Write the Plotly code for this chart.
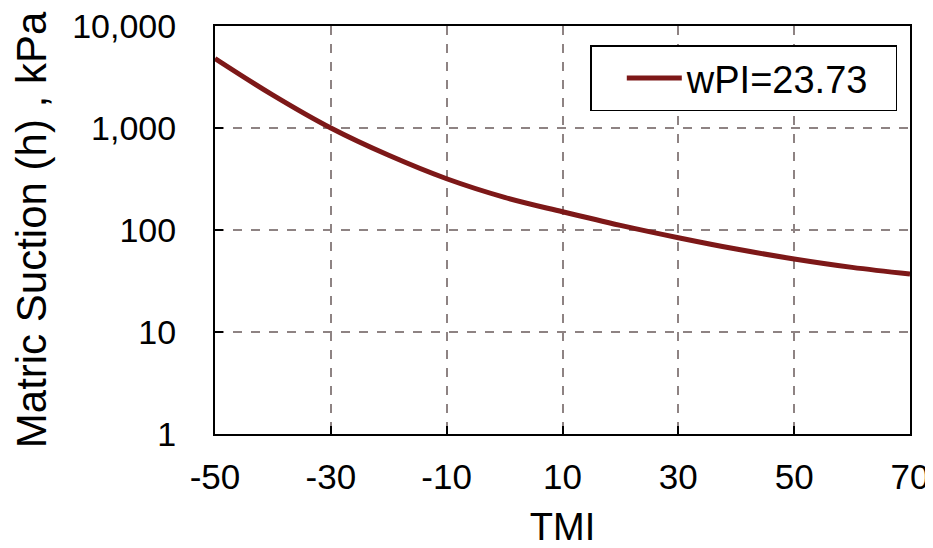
import plotly.graph_objects as go

tmi = [-50, -40, -30, -20, -10, 0, 10, 20, 30, 40, 50, 60, 70]
suction = [4800, 2100, 1000, 540, 318, 209, 151, 111, 84, 65, 52, 43, 37]
series_name = "wPI=23.73"

x_ticks = [-50, -30, -10, 10, 30, 50, 70]
x_ticktext = ["-50", "-30", "-10", "10", "30", "50", "70"]
y_ticks = [1, 10, 100, 1000, 10000]
y_ticktext = ["1", "10", "100", "1,000", "10,000"]

FONT = "Liberation Sans, Arial, sans-serif"
GRID = "#8e8383"

fig = go.Figure()
fig.add_trace(go.Scatter(
    x=tmi, y=suction, mode="lines", name=series_name,
    line=dict(color="#7d1818", width=5, shape="spline", smoothing=1.0),
))

fig.update_layout(
    width=925, height=540,
    margin=dict(l=207, r=23, t=18, b=114),
    paper_bgcolor="white", plot_bgcolor="white",
    font=dict(family=FONT, color="black", size=34),
    showlegend=True,
    legend=dict(
        x=0.54, y=0.953, xanchor="left", yanchor="top",
        bgcolor="white", bordercolor="black", borderwidth=1.5,
        font=dict(size=38, family=FONT, color="black"),
        orientation="h", indentation=30, entrywidth=204, itemwidth=55,
    ),
)

fig.update_xaxes(
    range=[-50, 70], tickvals=x_ticks, ticktext=x_ticktext,
    showline=True, linecolor="black", linewidth=2, mirror=True,
    ticks="inside", ticklen=8, tickcolor="black", tickwidth=2,
    showgrid=True, gridcolor=GRID, gridwidth=1.5, griddash="dash",
    zeroline=False, automargin=False, ticklabeloverflow="allow",
    tickfont=dict(size=35), ticklabelstandoff=11,
    title=dict(text="TMI", font=dict(size=38), standoff=28),
)
fig.update_yaxes(
    type="log", range=[0, 4], tickvals=y_ticks, ticktext=y_ticktext,
    showline=True, linecolor="black", linewidth=2, mirror=True,
    ticks="inside", ticklen=8, tickcolor="black", tickwidth=2,
    showgrid=True, gridcolor=GRID, gridwidth=1.5, griddash="dash",
    zeroline=False, automargin=False, ticklabeloverflow="allow",
    tickfont=dict(size=34), ticklabelstandoff=30,
    title=dict(text="Matric Suction (h) , kPa", font=dict(size=42), standoff=14),
)

fig.write_html("out.html")
